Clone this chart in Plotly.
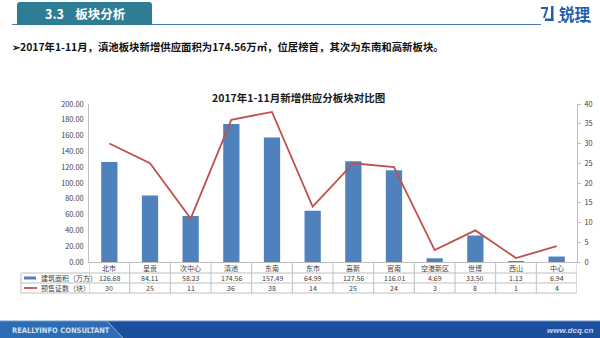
import plotly.graph_objects as go

# Data: new supply by district, Jan-Nov 2017
districts = ["北市", "呈贡", "次中心", "滇池", "东南", "东市", "高新", "官南", "空港新区", "世博", "西山", "中心"]
area_wan = [126.68, 84.11, 58.23, 174.56, 157.49, 64.99, 127.56, 116.01, 4.69, 33.50, 1.13, 6.94]
permits = [30, 25, 11, 36, 38, 14, 25, 24, 3, 8, 1, 4]
left_ticks = [0, 20, 40, 60, 80, 100, 120, 140, 160, 180, 200]
right_ticks = [0, 5, 10, 15, 20, 25, 30, 35, 40]

W, H = 600, 338
CJK = "Noto Sans CJK SC"
BAR_BLUE = "#4f81bd"
LINE_RED = "#c0504d"
GRID = "#bfbfbf"
TXT = "#404040"


def px(x):
    return x / W


def py(y):
    return 1 - y / H


def label(x, y, text, size=7, color=TXT, xanchor="center", xref="paper", family=None):
    font = dict(size=size, color=color)
    if family:
        font["family"] = family
    return dict(x=x, xref=xref, y=py(y), yref="paper", text=text, showarrow=False,
                xanchor=xanchor, yanchor="middle", font=font)


fig = go.Figure()
fig.add_trace(go.Bar(x=districts, y=area_wan, marker=dict(color=BAR_BLUE, line=dict(width=0)),
                     width=0.4, name="建筑面积（万方）", yaxis="y"))
fig.add_trace(go.Scatter(x=districts, y=permits, mode="lines", line=dict(color=LINE_RED, width=1.8),
                         name="预售证数（块）", yaxis="y2"))

x_left, x_right = 89, 577
y_top, y_zero = 104, 262

fig.update_layout(
    width=W, height=H, margin=dict(l=0, r=0, t=0, b=0, autoexpand=False),
    paper_bgcolor="white", plot_bgcolor="white", showlegend=False,
    font=dict(family=CJK, color=TXT, size=7),
    xaxis=dict(domain=[px(x_left), px(x_right)], range=[-0.5, len(districts) - 0.5],
               showticklabels=False, ticks="", showgrid=False, zeroline=False, automargin=False,
               showline=True, linecolor=GRID, linewidth=1, fixedrange=True),
    yaxis=dict(domain=[py(y_zero), py(y_top)], range=[0, 200], tickvals=left_ticks,
               ticktext=[f"{v:.2f}" for v in left_ticks], showgrid=False, zeroline=False,
               showline=True, linecolor=GRID, linewidth=1, ticks="", ticklabelstandoff=3,
               automargin=False, tickfont=dict(family=CJK, size=7.3, color=TXT)),
    yaxis2=dict(overlaying="y", side="right", range=[0, 40], tickvals=right_ticks,
                showgrid=False, zeroline=False, showline=True, linecolor=GRID, linewidth=1,
                ticks="outside", ticklen=3, tickcolor=GRID, ticklabelstandoff=2, automargin=False,
                tickfont=dict(family=CJK, size=7.3, color=TXT)),
)

shapes = []
annos = []

# Data table under the plot
row_lines = [262, 273, 283, 293]
tbl_left = 21
line_style = dict(color=GRID, width=1)
for i in range(len(districts) + 1):
    shapes.append(dict(type="line", xref="x", yref="paper", x0=i - 0.5, x1=i - 0.5,
                       y0=py(row_lines[0]), y1=py(row_lines[-1]), line=line_style))
for yy in row_lines[1:]:
    shapes.append(dict(type="line", xref="paper", yref="paper", x0=px(tbl_left), x1=px(x_right),
                       y0=py(yy), y1=py(yy), line=line_style))
shapes.append(dict(type="line", xref="paper", yref="paper", x0=px(tbl_left), x1=px(tbl_left),
                   y0=py(273), y1=py(293), line=line_style))

for i, name in enumerate(districts):
    annos.append(label(i, 267.5, name, xref="x"))
    annos.append(label(i, 278, f"{area_wan[i]:.2f}", xref="x"))
    annos.append(label(i, 288, str(permits[i]), xref="x"))

# Legend keys in the table
shapes.append(dict(type="rect", xref="paper", yref="paper", x0=px(24), x1=px(36),
                   y0=py(279.5), y1=py(276.5), fillcolor=BAR_BLUE, line=dict(width=0)))
shapes.append(dict(type="line", xref="paper", yref="paper", x0=px(24), x1=px(37),
                   y0=py(288), y1=py(288), line=dict(color=LINE_RED, width=1.8)))
annos.append(label(px(39), 278, "建筑面积（万方）", xanchor="left"))
annos.append(label(px(39), 288, "预售证数（块）", xanchor="left"))

# Chart title
annos.append(label(px(298), 97, "<b>2017年1-11月新增供应分板块对比图</b>", size=10.5, color="#1a1a1a"))

# Header tab and rule
shapes.append(dict(type="line", xref="paper", yref="paper", x0=px(12), x1=px(541),
                   y0=py(24.5), y1=py(24.5), line=dict(color="#4a7fb5", width=1)))
shapes.append(dict(type="path", xref="paper", yref="paper",
                   path=(f"M {px(17)},{py(25)} L {px(17)},{py(5)} Q {px(17)},{py(2)} {px(20)},{py(2)} "
                         f"L {px(149)},{py(2)} Q {px(152)},{py(2)} {px(152)},{py(5)} L {px(152)},{py(25)} Z"),
                   fillcolor="#2e7d95", line=dict(width=0)))
annos.append(label(px(85), 14, "<b>3.3    板块分析</b>", size=12.5, color="white"))

# Logo
shapes.append(dict(type="rect", xref="paper", yref="paper", x0=px(541), x1=px(548),
                   y0=py(9), y1=py(7), fillcolor="#1f5fb0", line=dict(width=0)))
shapes.append(dict(type="path", xref="paper", yref="paper",
                   path=(f"M {px(546)},{py(9)} L {px(548)},{py(9)} L {px(545)},{py(18)} L {px(543)},{py(18)} Z"),
                   fillcolor="#1f5fb0", line=dict(width=0)))
shapes.append(dict(type="rect", xref="paper", yref="paper", x0=px(551), x1=px(553.5),
                   y0=py(21), y1=py(6), fillcolor="#1f5fb0", line=dict(width=0)))
shapes.append(dict(type="rect", xref="paper", yref="paper", x0=px(545), x1=px(553.5),
                   y0=py(21), y1=py(18.5), fillcolor="#1f5fb0", line=dict(width=0)))
shapes.append(dict(type="line", xref="paper", yref="paper", x0=px(558), x1=px(593),
                   y0=py(22), y1=py(22), line=dict(color="#1f5fb0", width=1.5, dash="dot")))
annos.append(label(px(575), 13, "<b>锐理</b>", size=15.5, color="#1f5fb0"))

# Summary line
annos.append(label(px(10), 46, "<b>➢2017年1-11月，滇池板块新增供应面积为174.56万㎡，位居榜首，其次为东南和高新板块。</b>",
                   size=10.4, color="#111111", xanchor="left"))

# Footer band
shapes.append(dict(type="rect", xref="paper", yref="paper", x0=0, x1=1, y0=0, y1=py(321),
                   fillcolor="#1c4f9e", line=dict(width=0), layer="above"))
shapes.append(dict(type="path", xref="paper", yref="paper",
                   path=f"M 0,{py(321)} L {px(107)},{py(321)} L {px(123)},0 L 0,0 Z",
                   fillcolor="#2d6db5", line=dict(width=0), layer="above"))
shapes.append(dict(type="line", xref="paper", yref="paper", x0=px(107), x1=px(123),
                   y0=py(321), y1=0, line=dict(color="#8fb0d8", width=1), layer="above"))
shapes.append(dict(type="line", xref="paper", yref="paper", x0=0, x1=1,
                   y0=py(321), y1=py(321), line=dict(color="#6f97c9", width=1), layer="above"))
annos.append(label(px(10), 330, "<b>REALLYINFO CONSULTANT</b>", size=7.5, color="#d3e0f0",
                   xanchor="left", family="DejaVu Sans Condensed, Liberation Sans Narrow"))
annos.append(label(px(595), 330, "<b><i>www.dcq.cn</i></b>", size=8, color="#c9d8ee",
                   xanchor="right", family="Liberation Sans"))

fig.update_layout(shapes=shapes, annotations=annos)
fig.write_html("out.html")
